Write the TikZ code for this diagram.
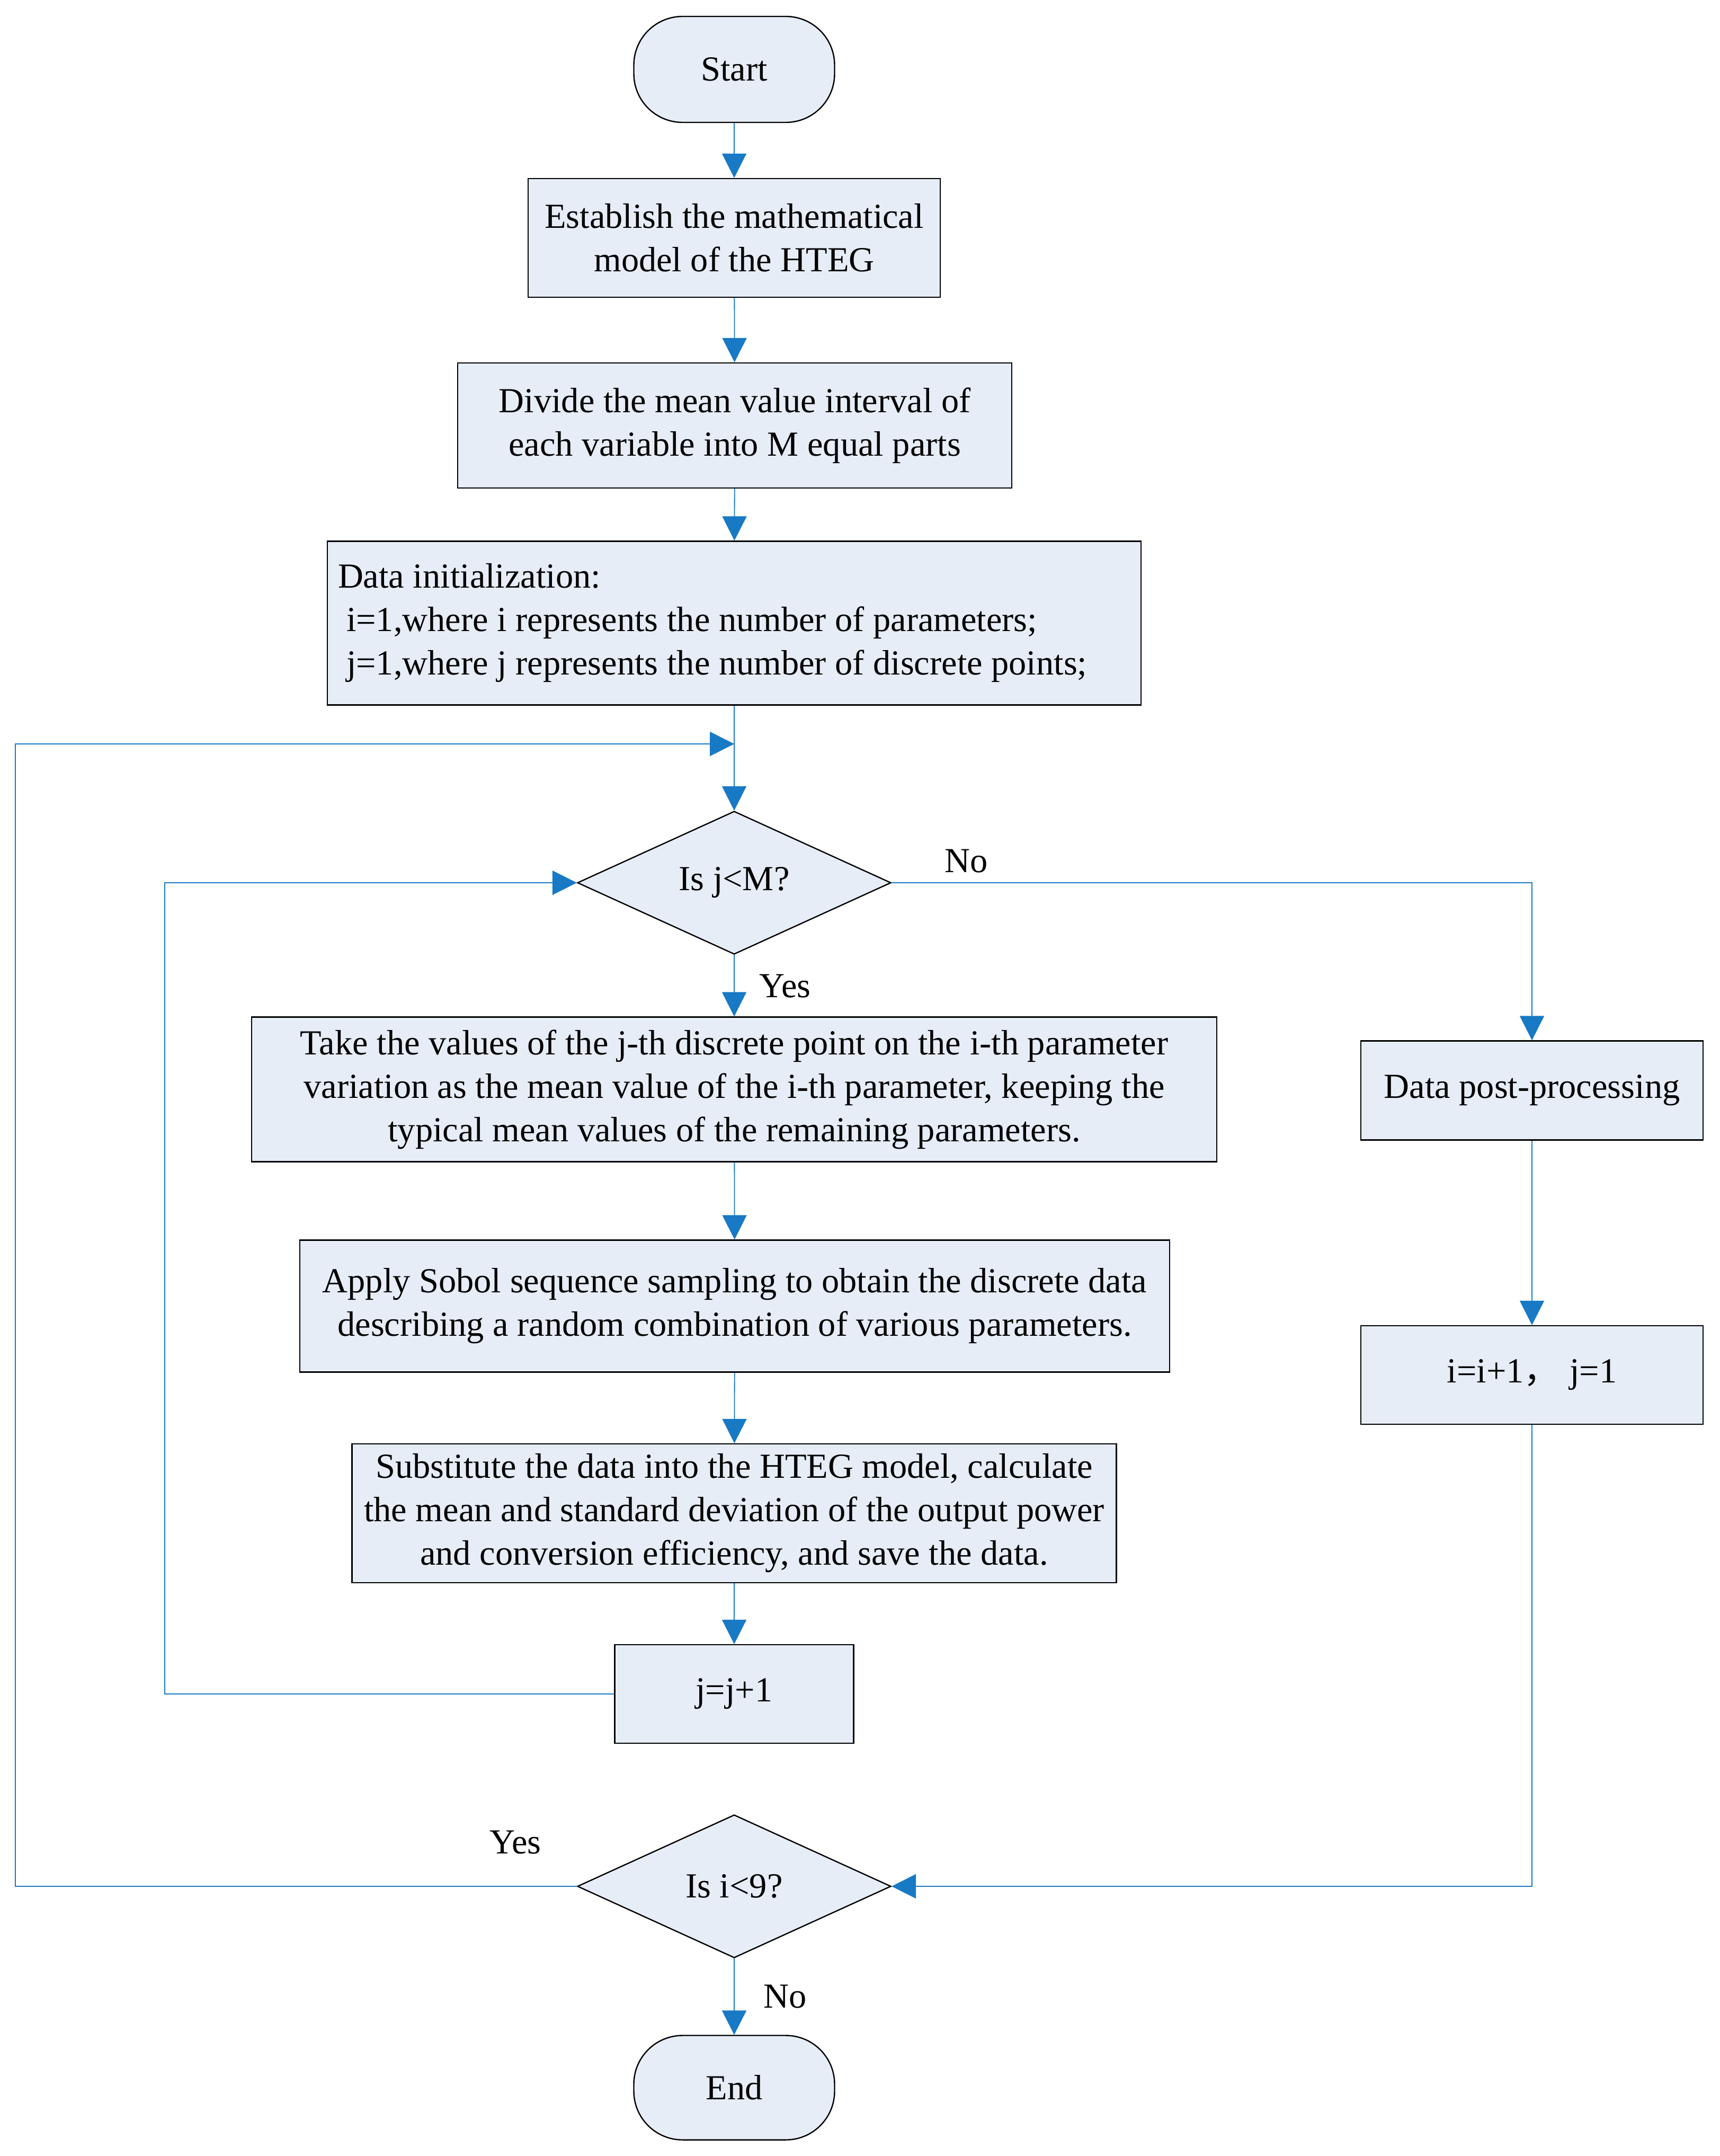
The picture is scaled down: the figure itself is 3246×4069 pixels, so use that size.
\documentclass[tikz,border=0pt]{standalone}
\usepackage{fontspec}
\setmainfont{Liberation Serif}
\newfontfamily\cjkfont{Noto Sans CJK SC}
\usetikzlibrary{arrows.meta,shapes.geometric}

\begin{document}
\begin{tikzpicture}[
    x=0.25pt,
    y=-0.25pt,
    font=\fontsize{16.6}{20.5}\selectfont,
    box edge/.style={draw=black, fill=flowFill, line width=0.6pt, inner sep=0pt},
    process/.style={box edge, rectangle, align=center},
    terminal/.style={box edge, rectangle, rounded corners=23pt,
      minimum width=94.75pt, minimum height=50pt},
    decision/.style={box edge, diamond, aspect=2.2,
      minimum width=148pt, minimum height=67.5pt},
    flow/.style={draw=flowBlue, line width=0.45pt,
      -{Triangle[length=11.5pt, width=11.5pt]}},
    branch label/.style={inner sep=0pt}
]

\definecolor{flowFill}{RGB}{230,237,247}
\definecolor{flowBlue}{RGB}{24,121,196}

\useasboundingbox (0,0) rectangle (3246,4069);

% Main column.
\node[terminal] (start) at (1386,131) {Start};
\node[process, minimum width=194.5pt, minimum height=56pt] (model) at (1386,449)
  {Establish the mathematical\\model of the HTEG};
\node[process, minimum width=261.5pt, minimum height=59pt] (divide) at (1387,803)
  {Divide the mean value interval of\\each variable into M equal parts};
\node[box edge, rectangle, align=flush left, text width=374pt, inner xsep=5pt,
  minimum height=77.25pt] (init) at (1386,1176)
  {Data initialization:\\
   \hspace*{4pt}i=1,where i represents the number of parameters;\\
   \hspace*{4pt}j=1,where j represents the number of discrete points;};
\node[decision] (jtest) at (1386,1666) {Is j<M?};
\node[process, minimum width=455.5pt, minimum height=68.25pt] (take) at (1386,2056)
  {Take the values of the j-th discrete point on the i-th parameter\\
   variation as the mean value of the i-th parameter, keeping the\\
   typical mean values of the remaining parameters.};
\node[process, minimum width=410.5pt, minimum height=62.25pt] (apply) at (1387,2465)
  {Apply Sobol sequence sampling to obtain the discrete data\\
   describing a random combination of various parameters.};
\node[process, minimum width=360.75pt, minimum height=65.5pt] (subst) at (1386,2856)
  {Substitute the data into the HTEG model, calculate\\
   the mean and standard deviation of the output power\\
   and conversion efficiency, and save the data.};
\node[process, minimum width=112.75pt, minimum height=46.5pt] (jinc) at (1386,3197)
  {j=j+1};
\node[decision] (itest) at (1386,3560) {Is i<9?};
\node[terminal, minimum height=49.25pt] (end) at (1386,3940) {End};

% Right column.
\node[process, minimum width=161.5pt, minimum height=46.75pt] (post) at (2892,2058)
  {Data post-processing};
\node[process, minimum width=161.5pt, minimum height=46.5pt] (iinc) at (2892,2595)
  {i=i+1{\cjkfont ，}\hspace{0.3em}j=1};

% Loop rails.
\coordinate (rejoin) at (1386,1404);
\coordinate (outer) at (29,1404);
\coordinate (inner) at (311,1666);

% Straight connectors.
\draw[flow] (start) -- (model);
\draw[flow] (model) -- (divide);
\draw[flow] (divide) -- (init);
\draw[flow] (init) -- (jtest);
\draw[flow] (jtest) -- (take);
\draw[flow] (take) -- (apply);
\draw[flow] (apply) -- (subst);
\draw[flow] (subst) -- (jinc);
\draw[flow] (post) -- (iinc);
\draw[flow] (itest) -- (end);

% Branches and loops.
\draw[flow] (jtest.east) -| (post.north);
\draw[flow] (iinc.south) |- (itest.east);
\draw[flow] (jinc.west) -| (inner) -- (jtest.west);
\draw[flow] (itest.west) -| (outer) -- (rejoin);

% Branch labels.
\node[branch label] (jno) at (1824,1625) {No};
\node[branch label] (jyes) at (1482,1861) {Yes};
\node[branch label] (iyes) at (973,3477) {Yes};
\node[branch label] (ino) at (1482,3768) {No};

\end{tikzpicture}
\end{document}
